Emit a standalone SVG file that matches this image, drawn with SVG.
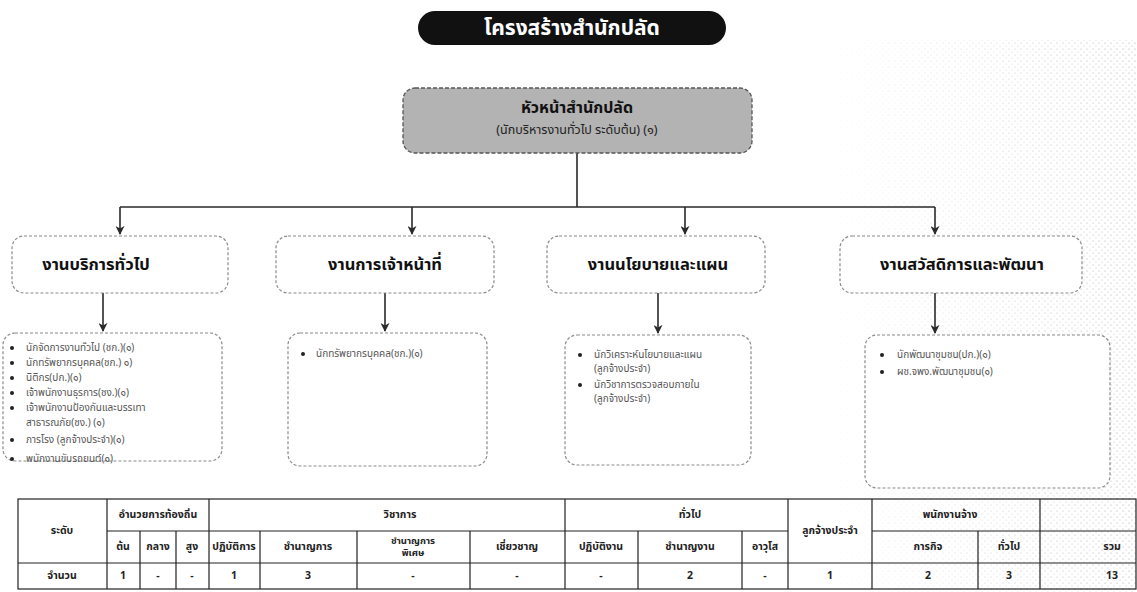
<svg xmlns="http://www.w3.org/2000/svg" width="1137" height="592" viewBox="0 0 1137 592">
<style>
text{font-family:"Noto Sans Thai","Noto Sans Thai Looped","Noto Sans","DejaVu Sans",sans-serif;dominant-baseline:central}
.tt{font-size:21px;font-weight:700;fill:#fff;text-anchor:middle}
.hd{font-size:16px;font-weight:700;fill:#111;text-anchor:middle}
.hs{font-size:12.5px;fill:#222;text-anchor:middle}
.sec{font-size:16.5px;font-weight:700;fill:#111;text-anchor:middle}
.it{font-size:10px;fill:#555}
.th{font-size:10.5px;font-weight:700;fill:#222;text-anchor:middle}
.box{fill:#fff;stroke:#8a8a8a;stroke-width:1.2;stroke-dasharray:3 2}
.head{fill:#b3b3b3;stroke:#555;stroke-width:1.3;stroke-dasharray:4 2}
.ln{fill:none;stroke:#2a2a2a;stroke-width:1.6}
.tb{fill:none;stroke:#222;stroke-width:1.2}
.bl{fill:#222}
</style>
<defs>
<marker id="ah" viewBox="0 0 10 10" refX="9" refY="5" markerWidth="9" markerHeight="9" markerUnits="userSpaceOnUse" orient="auto">
<path d="M0,0 L10,5 L0,10 L3,5 z" fill="#2a2a2a"/>
</marker>
<pattern id="dots" width="6" height="6" patternUnits="userSpaceOnUse">
<circle cx="1" cy="1" r="0.6" fill="#888"/>
<circle cx="4" cy="4" r="0.5" fill="#999"/>
</pattern>
<linearGradient id="fade" x1="0" y1="0" x2="1" y2="0">
<stop offset="0" stop-color="#fff" stop-opacity="0"/>
<stop offset="1" stop-color="#fff" stop-opacity="1"/>
</linearGradient>
<mask id="m1">
<rect x="820" y="40" width="317" height="552" fill="url(#fade)"/>
</mask>
</defs>
<rect width="1137" height="592" fill="#fff"/>
<rect x="820" y="40" width="317" height="552" fill="url(#dots)" mask="url(#m1)" opacity="0.8"/>

<g id="title">
<rect x="418" y="11" width="308" height="34" rx="17" fill="#111"/>
<text class="tt" x="572" y="28">โครงสร้างสำนักปลัด</text>
</g>

<g id="connectors">
<path class="ln" d="M577,153 V207 M120,207 H935"/>
<path class="ln" d="M120,207 V234" marker-end="url(#ah)"/>
<path class="ln" d="M412,207 V234" marker-end="url(#ah)"/>
<path class="ln" d="M685,207 V234" marker-end="url(#ah)"/>
<path class="ln" d="M935,207 V234" marker-end="url(#ah)"/>
<path class="ln" d="M103,293 V331" marker-end="url(#ah)"/>
<path class="ln" d="M385,293 V331" marker-end="url(#ah)"/>
<path class="ln" d="M658,293 V333" marker-end="url(#ah)"/>
<path class="ln" d="M935,293 V333" marker-end="url(#ah)"/>
</g>

<g id="head">
<rect class="head" x="403" y="88" width="349" height="65" rx="12"/>
<text class="hd" x="577" y="108">หัวหน้าสำนักปลัด</text>
<text class="hs" x="577" y="130">(นักบริหารงานทั่วไป ระดับต้น) (๑)</text>
</g>

<g id="sec1">
<rect class="box" x="12" y="236" width="216" height="57" rx="12"/>
<text class="sec" x="96" y="264">งานบริการทั่วไป</text>
</g>
<g id="sec2">
<rect class="box" x="276" y="236" width="218" height="57" rx="12"/>
<text class="sec" x="385" y="264">งานการเจ้าหน้าที่</text>
</g>
<g id="sec3">
<rect class="box" x="547" y="236" width="218" height="57" rx="12"/>
<text class="sec" x="658" y="264">งานนโยบายและแผน</text>
</g>
<g id="sec4">
<rect class="box" x="840" y="236" width="242" height="57" rx="12"/>
<text class="sec" x="962" y="264">งานสวัสดิการและพัฒนา</text>
</g>

<g id="list1">
<rect class="box" x="3" y="333" width="219" height="128" rx="12"/>
<circle class="bl" cx="12" cy="348" r="2"/><text class="it" x="26" y="348">นักจัดการงานทั่วไป (ชก.)(๑)</text>
<circle class="bl" cx="12" cy="363" r="2"/><text class="it" x="26" y="363">นักทรัพยากรบุคคล(ชก.) ๑)</text>
<circle class="bl" cx="12" cy="378" r="2"/><text class="it" x="26" y="378">นิติกร(ปก.)(๑)</text>
<circle class="bl" cx="12" cy="393" r="2"/><text class="it" x="26" y="393">เจ้าพนักงานธุรการ(ชง.)(๑)</text>
<circle class="bl" cx="12" cy="408" r="2"/><text class="it" x="26" y="408">เจ้าพนักงานป้องกันและบรรเทา</text>
<text class="it" x="26" y="423">สาธารณภัย(ชง.) (๑)</text>
<circle class="bl" cx="12" cy="440" r="2"/><text class="it" x="26" y="440">ภารโรง (ลูกจ้างประจำ)(๑)</text>
<circle class="bl" cx="12" cy="459" r="2"/><text class="it" x="26" y="459">พนักงานขับรถยนต์(๑)</text>
</g>
<g id="list2">
<rect class="box" x="288" y="333" width="199" height="133" rx="12"/>
<circle class="bl" cx="303" cy="354" r="2"/><text class="it" x="316" y="354">นักทรัพยากรบุคคล(ชก.)(๑)</text>
</g>
<g id="list3">
<rect class="box" x="565" y="335" width="186" height="130" rx="12"/>
<circle class="bl" cx="580" cy="355" r="2"/><text class="it" x="594" y="355">นักวิเคราะห์นโยบายและแผน</text>
<text class="it" x="594" y="369">(ลูกจ้างประจำ)</text>
<circle class="bl" cx="580" cy="385" r="2"/><text class="it" x="594" y="385">นักวิชาการตรวจสอบภายใน</text>
<text class="it" x="594" y="399">(ลูกจ้างประจำ)</text>
</g>
<g id="list4">
<rect class="box" x="865" y="335" width="245" height="153" rx="12"/>
<circle class="bl" cx="882" cy="355" r="2"/><text class="it" x="897" y="355">นักพัฒนาชุมชน(ปก.)(๑)</text>
<circle class="bl" cx="882" cy="372" r="2"/><text class="it" x="897" y="372">ผช.จพง.พัฒนาชุมชน(๑)</text>
</g>

<g id="table">
<rect class="tb" x="18" y="499" width="1118" height="90"/>
<path class="tb" d="M107,499 V589 M209,499 V589 M565,499 V589 M788,499 V589 M872,499 V589 M1040,499 V589
M140,531 V589 M176,531 V589 M260,531 V589 M357,531 V589 M470,531 V589 M638,531 V589 M742,531 V589 M978,531 V589
M107,531 H788 M872,531 H1136 M18,563 H1136"/>
<text class="th" x="62" y="531">ระดับ</text>
<text class="th" x="158" y="515">อำนวยการท้องถิ่น</text>
<text class="th" x="400" y="515">วิชาการ</text>
<text class="th" x="690" y="515">ทั่วไป</text>
<text class="th" x="830" y="531">ลูกจ้างประจำ</text>
<text class="th" x="950" y="515">พนักงานจ้าง</text>
<text class="th" x="123" y="547">ต้น</text>
<text class="th" x="158" y="547">กลาง</text>
<text class="th" x="192" y="547">สูง</text>
<text class="th" x="234" y="547">ปฏิบัติการ</text>
<text class="th" x="308" y="547">ชำนาญการ</text>
<text class="th" x="413" y="541" style="font-size:9.5px">ชำนาญการ</text>
<text class="th" x="413" y="553" style="font-size:9.5px">พิเศษ</text>
<text class="th" x="517" y="547">เชี่ยวชาญ</text>
<text class="th" x="601" y="547">ปฏิบัติงาน</text>
<text class="th" x="690" y="547">ชำนาญงาน</text>
<text class="th" x="765" y="547">อาวุโส</text>
<text class="th" x="928" y="547">การกิจ</text>
<text class="th" x="1009" y="547">ทั่วไป</text>
<text class="th" x="1112" y="547">รวม</text>
<text class="th" x="62" y="576">จำนวน</text>
<text class="th" x="123" y="576">1</text>
<text class="th" x="158" y="576">-</text>
<text class="th" x="192" y="576">-</text>
<text class="th" x="234" y="576">1</text>
<text class="th" x="308" y="576">3</text>
<text class="th" x="413" y="576">-</text>
<text class="th" x="517" y="576">-</text>
<text class="th" x="601" y="576">-</text>
<text class="th" x="690" y="576">2</text>
<text class="th" x="765" y="576">-</text>
<text class="th" x="830" y="576">1</text>
<text class="th" x="928" y="576">2</text>
<text class="th" x="1009" y="576">3</text>
<text class="th" x="1112" y="576">13</text>
</g>
</svg>
